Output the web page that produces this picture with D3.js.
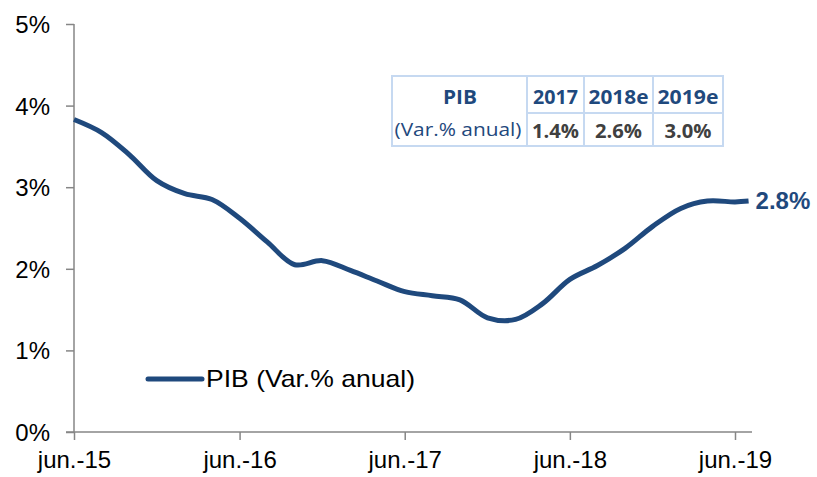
<!doctype html>
<html>
<head>
<meta charset="utf-8">
<title>PIB (Var.% anual)</title>
<script src="https://d3js.org/d3.v7.min.js"></script>
<style>
  body { margin: 0; background: #fff; }
  svg text { font-family: "Liberation Sans", Arial, sans-serif; }
  svg text.tb { font-family: "Open Sans", "Noto Sans", sans-serif; }
</style>
</head>
<body>
<svg class="plot"></svg>
<script>
// bi-monthly readings, jun-15 .. jun-19, plus last month
var dates = ["2015-06","2015-08","2015-10","2015-12","2016-02","2016-04","2016-06","2016-08",
             "2016-10","2016-12","2017-02","2017-04","2017-06","2017-08","2017-10","2017-12",
             "2018-02","2018-04","2018-06","2018-08","2018-10","2018-12","2019-02","2019-04",
             "2019-06","2019-07"];
var pib = [3.83, 3.67, 3.40, 3.08, 2.92, 2.85, 2.62, 2.33,
           2.05, 2.10, 1.98, 1.85, 1.72, 1.67, 1.62, 1.40,
           1.38, 1.57, 1.87, 2.04, 2.25, 2.52, 2.74, 2.83,
           2.82, 2.83];
var yTicks = [0, 1, 2, 3, 4, 5];
var xTicks = ["2015-06","2016-06","2017-06","2018-06","2019-06"];
var tableYears = ["2017", "2018e", "2019e"];
var tableValues = ["1.4%", "2.6%", "3.0%"];

var parse = d3.timeParse("%Y-%m");
var W = 817, H = 477;
var mLeft = 74, mRight = 735, mTop = 24, mBottom = 432;
var blue = "#1f497d";

var svg = d3.select(".plot").attr("width", W).attr("height", H);

var x = d3.scaleTime()
    .domain([parse("2015-06"), parse("2019-06")])
    .range([mLeft, mRight]);
var y = d3.scaleLinear().domain([0, 5]).range([mBottom, mTop]);

// y axis
var yAxis = svg.append("g")
    .attr("transform", "translate(" + mLeft + ",0)")
    .call(d3.axisLeft(y).tickValues(yTicks).tickSize(8).tickPadding(16)
        .tickFormat(function(d) { return d + "%"; }));
// x axis
var xAxis = svg.append("g")
    .attr("transform", "translate(0," + mBottom + ")")
    .call(d3.axisBottom(x).tickValues(xTicks.map(parse)).tickSize(8).tickPadding(5)
        .tickFormat(function(d) {
            return "jun.-" + d3.timeFormat("%y")(d);
        }));
xAxis.select(".domain").attr("d", "M" + (mLeft - 8) + ",0H752");
yAxis.select(".domain").attr("d", "M0," + mTop + "V" + mBottom);

svg.selectAll(".domain, .tick line").attr("stroke", "#868686").attr("stroke-width", 1.5);
yAxis.selectAll(".tick text").attr("font-size", 24).attr("fill", "#000").attr("dy", "0.35em");
xAxis.selectAll(".tick text").attr("font-size", 24).attr("fill", "#000").attr("dy", "0.95em");

// series
var line = d3.line()
    .x(function(d, i) { return x(parse(dates[i])); })
    .y(function(d) { return y(d); })
    .curve(d3.curveCatmullRom.alpha(0.5));

svg.append("path")
    .datum(pib)
    .attr("d", line)
    .attr("fill", "none")
    .attr("stroke", blue)
    .attr("stroke-width", 5)
    .attr("stroke-linejoin", "round");

// end label
svg.append("text")
    .attr("x", x(parse(dates[dates.length - 1])) + 7)
    .attr("y", y(pib[pib.length - 1]))
    .attr("dy", "0.35em")
    .attr("font-size", 24)
    .attr("font-weight", "bold")
    .attr("fill", blue)
    .text(d3.format(".1f")(pib[pib.length - 1]) + "%");

// legend
svg.append("line")
    .attr("x1", 148).attr("x2", 202).attr("y1", 379).attr("y2", 379)
    .attr("stroke", blue).attr("stroke-width", 5).attr("stroke-linecap", "round");
svg.append("text")
    .attr("x", 206).attr("y", 379).attr("dy", "0.35em")
    .attr("font-size", 24).attr("fill", "#000")
    .attr("textLength", 209).attr("lengthAdjust", "spacingAndGlyphs")
    .text("PIB (Var.% anual)");

// table
var tb = svg.append("g");
var colX = [392, 527, 584, 653, 723];
var rowY = [76, 113, 146];
var border = "#c6d9f1";
tb.append("rect").attr("x", colX[0]).attr("y", rowY[0])
    .attr("width", colX[4] - colX[0]).attr("height", rowY[2] - rowY[0])
    .attr("fill", "#fff").attr("stroke", border).attr("stroke-width", 2);
tb.append("line").attr("x1", colX[1]).attr("x2", colX[4]).attr("y1", rowY[1]).attr("y2", rowY[1])
    .attr("stroke", border).attr("stroke-width", 2);
colX.slice(1, 4).forEach(function(cx) {
    tb.append("line").attr("x1", cx).attr("x2", cx).attr("y1", rowY[0]).attr("y2", rowY[2])
        .attr("stroke", border).attr("stroke-width", 2);
});
tb.append("text").attr("class", "tb").attr("x", 460).attr("y", 104)
    .attr("text-anchor", "middle").attr("font-size", 20)
    .attr("font-weight", "bold").attr("fill", blue)
    .attr("textLength", 34).attr("lengthAdjust", "spacingAndGlyphs").text("PIB");
tb.append("text").attr("class", "tb").attr("x", 458).attr("y", 136)
    .attr("text-anchor", "middle").attr("font-size", 19)
    .attr("fill", blue).attr("textLength", 127).attr("lengthAdjust", "spacingAndGlyphs")
    .text("(Var.% anual)");
var yearW = [45, 60, 61];
tableYears.forEach(function(t, i) {
    tb.append("text").attr("class", "tb").attr("x", (colX[i + 1] + colX[i + 2]) / 2).attr("y", 104)
        .attr("text-anchor", "middle").attr("font-size", 20)
        .attr("font-weight", "bold").attr("fill", blue)
        .attr("textLength", yearW[i]).attr("lengthAdjust", "spacingAndGlyphs")
        .text(t);
});
tableValues.forEach(function(t, i) {
    tb.append("text").attr("class", "tb").attr("x", (colX[i + 1] + colX[i + 2]) / 2).attr("y", 138)
        .attr("text-anchor", "middle").attr("font-size", 20)
        .attr("font-weight", "bold").attr("fill", "#404040")
        .attr("textLength", 47).attr("lengthAdjust", "spacingAndGlyphs")
        .text(t);
});
</script>
</body>
</html>
